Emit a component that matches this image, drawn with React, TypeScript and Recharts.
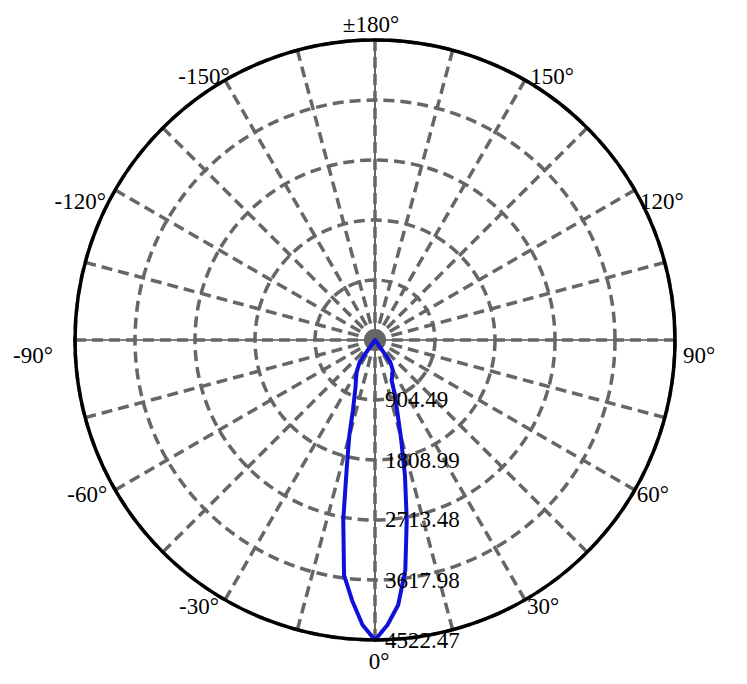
import { RadarChart, Radar, PolarGrid, PolarAngleAxis, PolarRadiusAxis } from 'recharts'

// light distribution curve, angle in degrees (0 = straight down)
const angles = [
  -180, -150, -120, -90, -60, -45, -40, -35, -32.5, -30, -27.5, -25, -22.5, -20, -17.5, -15,
  -12.5, -10, -7.5, -5, -2.5, 0, 2.5, 5, 7.5, 10, 12.5, 15, 17.5, 20, 22.5, 25, 27.5, 30,
  32.5, 35, 40, 45, 60, 90, 120, 150, 180,
]
const intensity = [
  0, 0, 0, 0, 0, 0, 0, 395, 465, 552, 612, 682, 767, 905, 1105, 1500,
  1965, 2755, 3575, 3945, 4300, 4522.47, 4300, 4010, 3500, 2755, 2085, 1500, 1105, 875, 653, 615, 560, 544,
  464, 398, 0, 0, 0, 0, 0, 0, 0,
]

const angleTicks = [
  -165, -150, -135, -120, -105, -90, -75, -60, -45, -30, -15, 0,
  15, 30, 45, 60, 75, 90, 105, 120, 135, 150, 165, 180,
]
const radiusTicks = [904.49, 1808.99, 2713.48, 3617.98, 4522.47]
const maxIntensity = 4522.47

const chartData = angles.map((angle, i) => ({ angle, value: intensity[i] }))

const FONT = '"Liberation Serif", "Times New Roman", serif'

// where each angle label sits, relative to the point on the outer circle
const labelOffset: Record<number, [number, number]> = {
  0: [4, 21],
  30: [18, 7],
  60: [18, 4],
  90: [24, 15],
  120: [27, 11],
  150: [27, -4],
  180: [-4, -16],
  '-150': [-21, -4],
  '-120': [-35, 11],
  '-90': [-42, 15],
  '-60': [-28, 4],
  '-30': [-26, 7],
} as any

const AngleTick = (props: any) => {
  const { x, y, payload } = props
  const v = payload.value
  if (v % 30 !== 0) return null
  const rad = (-payload.coordinate * Math.PI) / 180
  // tick label point is 8px outside the circle
  const px = x - 8 * Math.cos(rad)
  const py = y - 8 * Math.sin(rad)
  const off = labelOffset[v] || [0, 0]
  return (
    <text
      x={px + off[0]}
      y={py + off[1]}
      textAnchor="middle"
      dominantBaseline="central"
      fontFamily={FONT}
      fontSize={23}
      fill="#000"
    >
      {v === 180 ? '±180°' : `${v}°`}
    </text>
  )
}

const RadiusTick = (props: any) => {
  const { x, y, payload } = props
  return (
    <text x={x + 10} y={y} dominantBaseline="central" fontFamily={FONT} fontSize={23} fill="#000">
      {payload.value}
    </text>
  )
}

export default function App() {
  return (
    <div style={{ width: 731, height: 668 }}>
      <RadarChart
        width={731}
        height={668}
        data={chartData}
        cx={367}
        cy={332}
        outerRadius={300}
        startAngle={90}
        endAngle={450}
        margin={{ top: 0, right: 0, bottom: 0, left: 0 }}
      >
        <PolarGrid
          gridType="circle"
          polarAngles={[0, 90, 180, 270]}
          polarRadius={[]}
          stroke="#000"
          strokeWidth={1.2}
        />
        <PolarGrid gridType="circle" stroke="#666" strokeWidth={3.5} strokeDasharray="11 6" />
        <PolarAngleAxis
          dataKey="angle"
          type="number"
          domain={[-180, 180]}
          ticks={angleTicks}
          axisLineType="circle"
          axisLine={{ stroke: '#000', strokeWidth: 3.5 }}
          tickLine={false}
          tick={<AngleTick />}
        />
        <Radar
          dataKey="value"
          stroke="#1010d8"
          strokeWidth={4}
          strokeLinejoin="round"
          fill="none"
          fillOpacity={0}
          dot={false}
          isAnimationActive={false}
        />
        <PolarRadiusAxis
          angle={-90}
          type="number"
          domain={[0, maxIntensity]}
          ticks={radiusTicks}
          axisLine={false}
          tick={<RadiusTick />}
        />
      </RadarChart>
    </div>
  )
}
